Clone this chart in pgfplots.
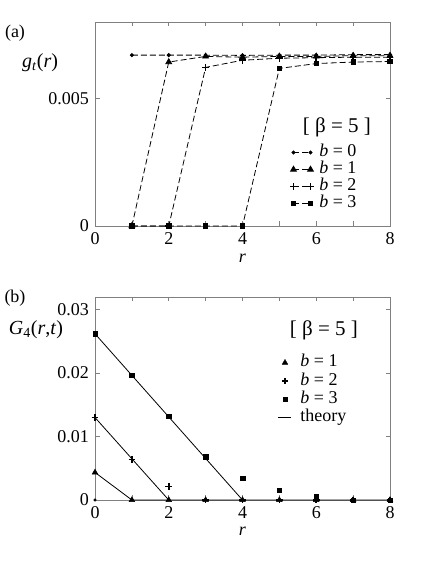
\documentclass[border=0pt]{standalone}
\usepackage{fontspec}
\setmainfont{Liberation Serif}
\usepackage{pgfplots}
\pgfplotsset{compat=1.18}

\pgfplotsset{
  myax/.style={
    scale only axis, width=295pt,
    xmin=0, xmax=8,
    xtick={0,2,4,6,8}, xticklabels={0,2,4,6,8},
    minor xtick={1,3,5,7},
    axis line style={black!50},
    tick style={black!50, line width=0.6pt},
    major tick length=4.5pt, minor tick length=4.5pt,
    ticklabel style={font=\fontsize{18}{21}\selectfont},
    scaled y ticks=false,
    clip=false,
    legend cell align=left,
  },
}

\begin{document}
\fontsize{18}{21}\selectfont
\begin{tikzpicture}
\useasboundingbox (0pt,0pt) rectangle (436pt,564pt);

\node at (15pt,531pt) {(a)};
\node at (15pt,266pt) {(b)};

% ---- panel (a)
\begin{axis}[myax,
    at={(95pt,338pt)}, anchor=south west, height=204pt,
    ymin=0, ymax=0.008,
    ytick={0,0.005}, yticklabels={0,0.005},
    legend style={at={(rel axis cs:0.661,0.398)}, anchor=north west,
      draw=none, fill=none, inner sep=0pt, row sep=2pt, column sep=5pt,
      nodes={inner sep=0.5pt, text height=11pt, text depth=3pt},
      font=\fontsize{18}{21}\selectfont},
    legend image code/.code={\draw[#1] plot coordinates {(0pt,0pt) (17pt,0pt)};},
    every axis plot/.append style={black, line width=0.8pt, dash pattern=on 6pt off 3pt},
]
\addplot[mark=*, mark size=1.6pt, mark options={solid}] coordinates {
  (1,0.00670) (2,0.00670) (3,0.00670) (4,0.00669) (5,0.00670) (6,0.00670) (7,0.00672) (8,0.00672)};
\addlegendentry{\textit{b} = 0}
\addplot[mark=triangle*, mark size=3.3pt, mark options={solid}] coordinates {
  (1,0) (2,0.00643) (3,0.00665) (4,0.00662) (5,0.00665) (6,0.00665) (7,0.00668) (8,0.00668)};
\addlegendentry{\textit{b} = 1}
\addplot[mark=+, mark size=3.3pt, mark options={solid, line width=1.6pt}] coordinates {
  (1,0) (2,0) (3,0.00622) (4,0.00650) (5,0.00658) (6,0.00660) (7,0.00662) (8,0.00662)};
\addlegendentry{\textit{b} = 2}
\addplot[mark=square*, mark size=2.2pt, mark options={solid}] coordinates {
  (1,0) (2,0) (3,0) (4,0) (5,0.00618) (6,0.00637) (7,0.00643) (8,0.00645)};
\addlegendentry{\textit{b} = 3}
\node[font=\fontsize{21}{24}\selectfont] at (rel axis cs:0.82,0.485) {[ β = 5 ]};
\node at (rel axis cs:0.5,0) [yshift=-32pt] {\textit{r}};
\node[font=\fontsize{20}{24}\selectfont] at (rel axis cs:-0.186,0.80) {\textit{g}\textsubscript{\textit{t}}(\textit{r})};
\end{axis}

% ---- panel (b)
\begin{axis}[myax,
    at={(95pt,64pt)}, anchor=south west, height=203pt,
    ymin=0, ymax=0.032,
    ytick={0,0.01,0.02,0.03}, yticklabels={0,0.01,0.02,0.03},
    legend style={at={(rel axis cs:0.62,0.714)}, anchor=north west,
      draw=none, fill=none, inner sep=0pt, row sep=3.3pt, column sep=8pt,
      nodes={inner sep=0.5pt, text height=11pt, text depth=3pt},
      font=\fontsize{18}{21}\selectfont},
    legend image code/.code={\draw[mark repeat=2, mark phase=2, #1] plot coordinates {(0pt,0pt) (6.5pt,0pt) (13pt,0pt)};},
]
\addplot[only marks, mark=triangle*, mark size=3.3pt, black] coordinates {
  (0,0.00435) (1,0) (2,0) (3,0) (4,0) (5,0) (6,0) (7,0) (8,0)};
\addlegendentry{\textit{b} = 1}
\addplot[only marks, mark=+, mark size=3.3pt, black, mark options={line width=1.6pt}] coordinates {
  (0,0.0130) (1,0.0064) (2,0.0021) (3,0) (4,0) (5,0) (6,0) (7,0) (8,0)};
\addlegendentry{\textit{b} = 2}
\addplot[only marks, mark=square*, mark size=2.2pt, black] coordinates {
  (0,0.0262) (1,0.0197) (2,0.0132) (3,0.0068) (4,0.0034) (5,0.0015) (6,0.0005) (7,0) (8,0)};
\addlegendentry{\textit{b} = 3}
\addplot[black, line width=0.8pt] coordinates {(0,0.00435) (1,0) (8,0)};
\addlegendentry{theory}
\addplot[black, line width=0.8pt, forget plot] coordinates {(0,0.0130) (2,0)};
\addplot[black, line width=0.8pt, forget plot] coordinates {(0,0.0262) (4,0)};
\addplot[only marks, mark=*, mark size=1.4pt, black, forget plot] coordinates {(0,0)};
\node[font=\fontsize{21}{24}\selectfont] at (rel axis cs:0.776,0.837) {[ β = 5 ]};
\node at (rel axis cs:0.5,0) [yshift=-31pt] {\textit{r}};
\node[font=\fontsize{20}{24}\selectfont] at (rel axis cs:-0.2,0.84) {\textit{G}\textsubscript{4}(\textit{r},\textit{t})};
\end{axis}
\end{tikzpicture}
\end{document}
